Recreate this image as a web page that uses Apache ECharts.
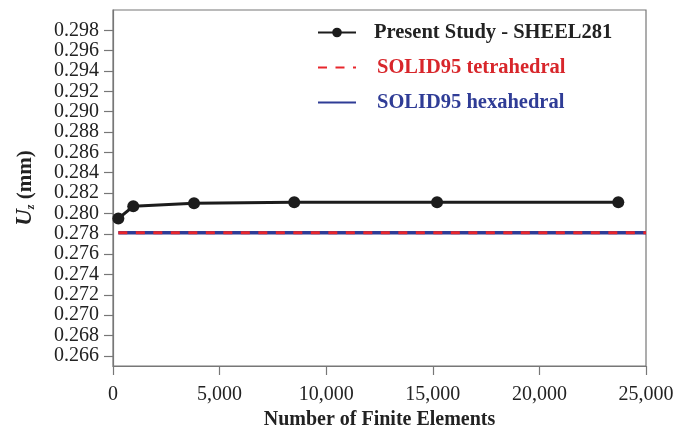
<!DOCTYPE html>
<html><head><meta charset="utf-8">
<script src="https://cdn.jsdelivr.net/npm/echarts@6/dist/echarts.min.js"></script>
<style>html,body{margin:0;padding:0;background:#fff}#c{width:676px;height:426px}</style>
</head><body><div id="c"></div>
<script>
const elements = [250, 950, 3800, 8500, 15200, 23700];
const shell281 = [0.2795, 0.2807, 0.2810, 0.2811, 0.2811, 0.2811];
const refRange = [250, 25000];
const solidTetra = [0.2781, 0.2781];
const solidHexa = [0.2781, 0.2781];
const yTicks = [0.266,0.268,0.270,0.272,0.274,0.276,0.278,0.280,0.282,0.284,0.286,0.288,0.290,0.292,0.294,0.296,0.298];
const seriesNames = ['Present Study - SHEEL281', 'SOLID95 tetrahedral', 'SOLID95 hexahedral'];

const font = 'Liberation Serif';
const chart = echarts.init(document.getElementById('c'), null, {renderer:'canvas'});
const pairs = (xs, ys) => xs.map((x,i)=>[x, ys[i]]);
chart.setOption({
  animation:false,
  backgroundColor:'#fff',
  grid:{left:113, right:30, top:10, bottom:60, show:true, borderColor:'#777', borderWidth:1.2,
    containLabel:false, outerBoundsMode:'none'},
  legend:{
    orient:'vertical', left:312, top:17, itemGap:14, itemWidth:38, itemHeight:12,
    data:[
      {name:seriesNames[0], textStyle:{color:'#222', padding:[0,0,0,13]}},
      {name:seriesNames[1], textStyle:{color:'#d8262b', padding:[0,0,0,16]}, itemStyle:{opacity:0}},
      {name:seriesNames[2], textStyle:{color:'#2f3c96', padding:[0,0,0,16]}, itemStyle:{opacity:0}}
    ],
    textStyle:{fontFamily:font, fontWeight:'bold', fontSize:20.5}
  },
  xAxis:{
    type:'value', min:0, max:25000, interval:5000,
    name:'Number of Finite Elements', nameLocation:'middle', nameGap:40,
    nameTextStyle:{fontFamily:font, fontWeight:'bold', fontSize:20, color:'#222'},
    axisLine:{onZero:false, lineStyle:{color:'#777', width:1.2}},
    axisTick:{show:true, inside:false, length:9, lineStyle:{color:'#777', width:1.2}},
    axisLabel:{fontFamily:font, fontSize:20, color:'#222', margin:19, showMinLabel:true, showMaxLabel:true,
      hideOverlap:false, formatter:v=>v.toLocaleString('en-US')},
    splitLine:{show:false}
  },
  yAxis:{
    type:'value', min:0.265, max:0.300,
    name:'{u|U}{s|z}{n| (mm)}', nameLocation:'middle', nameGap:76, nameRotate:90,
    nameTextStyle:{rich:{
      u:{fontFamily:font, fontWeight:'bold', fontStyle:'italic', fontSize:23, color:'#222'},
      s:{fontFamily:font, fontWeight:'bold', fontStyle:'italic', fontSize:12, color:'#222', verticalAlign:'bottom', padding:[8,0,0,0]},
      n:{fontFamily:font, fontWeight:'bold', fontSize:21, color:'#222'}
    }},
    axisLine:{show:true, lineStyle:{color:'#777', width:1.2}},
    axisTick:{show:true, length:9, customValues:yTicks, lineStyle:{color:'#777', width:1.2}},
    axisLabel:{fontFamily:font, fontSize:20, color:'#222', margin:14, customValues:yTicks,
      showMinLabel:true, showMaxLabel:true, hideOverlap:false, formatter:v=>v.toFixed(3)},
    splitLine:{show:false}
  },
  series:[
    {name:seriesNames[2], type:'line', data:pairs(refRange, solidHexa), symbol:'none',
      lineStyle:{color:'#2f3c96', width:3.5}, itemStyle:{color:'#2f3c96'}, z:2},
    {name:seriesNames[1], type:'line', data:pairs(refRange, solidTetra), symbol:'none',
      lineStyle:{color:'#e8262c', width:3, type:[9,8.5]}, itemStyle:{color:'#e8262c'}, z:3},
    {name:seriesNames[0], type:'line', data:pairs(elements, shell281), symbol:'circle', symbolSize:12,
      lineStyle:{color:'#1c1c1c', width:3}, itemStyle:{color:'#1c1c1c'}, z:4}
  ]
});
</script></body></html>
